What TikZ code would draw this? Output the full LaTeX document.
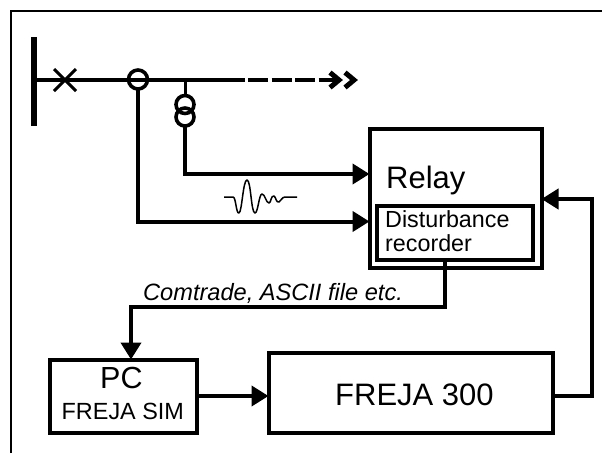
\documentclass[tikz,border=0pt]{standalone}
\usepackage{fontspec}
\setmainfont{Liberation Sans}
\usetikzlibrary{arrows.meta}
\tikzset{
  x=1pt,y=-1pt,
  wire/.style={line width=4pt,line cap=butt,line join=miter,black},
  conn/.style={wire,-{Triangle[length=17pt,width=20pt]}},
  boxn/.style={draw=black,line width=4pt,inner sep=0pt,outer sep=0pt},
  ring/.style={circle,draw=black,line width=3.6pt,inner sep=0pt,outer sep=0pt},
  frameline/.style={draw=black,line width=2pt},
  lab/.style={inner sep=0pt,anchor=base west,text=black},
}
\begin{document}
\begin{tikzpicture}
\useasboundingbox (0,0) rectangle (602,453);
\fill[white] (0,0) rectangle (602,453);
\draw[frameline] (11,453) -- (11,11) -- (602,11);
% bus
\coordinate (busT) at (34,37); \coordinate (busB) at (34,126);
\draw[line width=6.4pt,black] (busT) -- (busB);
\coordinate (busM) at (34,80);
\coordinate (lineEnd) at (245,80);
\coordinate (dashEnd) at (335,80);
\draw[wire] (busM) -- (lineEnd);
\draw[wire,dash pattern=on 20pt off 3.5pt] (248,80) -- (dashEnd);
% arrow chevrons
\draw[line width=5pt,miter limit=10] (330,72.5) -- (339,80) -- (330,87.5);
\draw[line width=5pt,miter limit=10] (345,72.5) -- (354,80) -- (345,87.5);
% breaker cross
\draw[line width=3pt] (54,69) -- (76,91);
\draw[line width=3pt] (76,69) -- (54,91);
% CT
\node[ring,minimum size=19pt] (ct) at (138,79.5) {};
% VT
\node[ring,minimum size=18pt] (vt1) at (185,104.5) {};
\node[ring,minimum size=18pt] (vt2) at (185,117) {};
\coordinate (vtTop) at (185,80);
\draw[wire,line width=3pt] (vtTop) -- (vt1.north);
% boxes
\node[boxn,minimum width=172pt,minimum height=139pt] (relay) at (455.5,198) {};
\node[boxn,minimum width=156pt,minimum height=54pt] (rec) at (455,233) {};
\node[boxn,minimum width=147pt,minimum height=73pt] (pc) at (123,396) {};
\node[boxn,minimum width=284pt,minimum height=80pt] (freja) at (410.5,392.5) {};
% connectors
\draw[conn] (vt2.south) |- (relay.west |- 0,174);
\draw[conn] (ct.south) |- (relay.west |- 0,221.5);
\coordinate (recOut) at (445,260);
\coordinate (recKnee) at (445,306.5);
\draw[conn] (recOut) -- (recKnee) -| (pc.north -| 131,0);
\draw[conn] (pc.east |- 0,396) -- (freja.west |- 0,396);
\draw[conn] (freja.east |- 0,396) -| (592,199) -- (relay.east |- 0,199);
% waveform
\draw[line width=1.5pt,line join=round] (224,197) -- (233,197) .. controls (236,197) and (236,214) .. (239,213)
 .. controls (242,212) and (243,180) .. (247,180)
 .. controls (251,180) and (251,213) .. (255,213)
 .. controls (258,213) and (259,194) .. (262,194)
 .. controls (265,194) and (266,203) .. (269,203)
 .. controls (271,203) and (271,195) .. (274,196)
 .. controls (276,197) and (276,203) .. (279,202)
 .. controls (281,201) and (282,197) .. (285,197) -- (297,197);
% labels
\node[lab,font=\fontsize{31}{31}\selectfont] (tRelay) at (386,188) {Relay};
\node[lab,font=\fontsize{23.3}{23.3}\selectfont] (tDist) at (385,227) {Disturbance};
\node[lab,font=\fontsize{23.3}{23.3}\selectfont] (tRec) at (385,251) {recorder};
\node[lab,font=\itshape\fontsize{23.6}{23.6}\selectfont] (tCom) at (143,300) {Comtrade, ASCII file etc.};
\node[lab,font=\fontsize{30.5}{30.5}\selectfont] (tPC) at (100,388) {PC};
\node[lab,font=\fontsize{23.4}{23.4}\selectfont] (tSim) at (61.5,419) {FREJA SIM};
\node[lab,font=\fontsize{31}{31}\selectfont] (tFreja) at (335,405) {FREJA 300};
\end{tikzpicture}
\end{document}
